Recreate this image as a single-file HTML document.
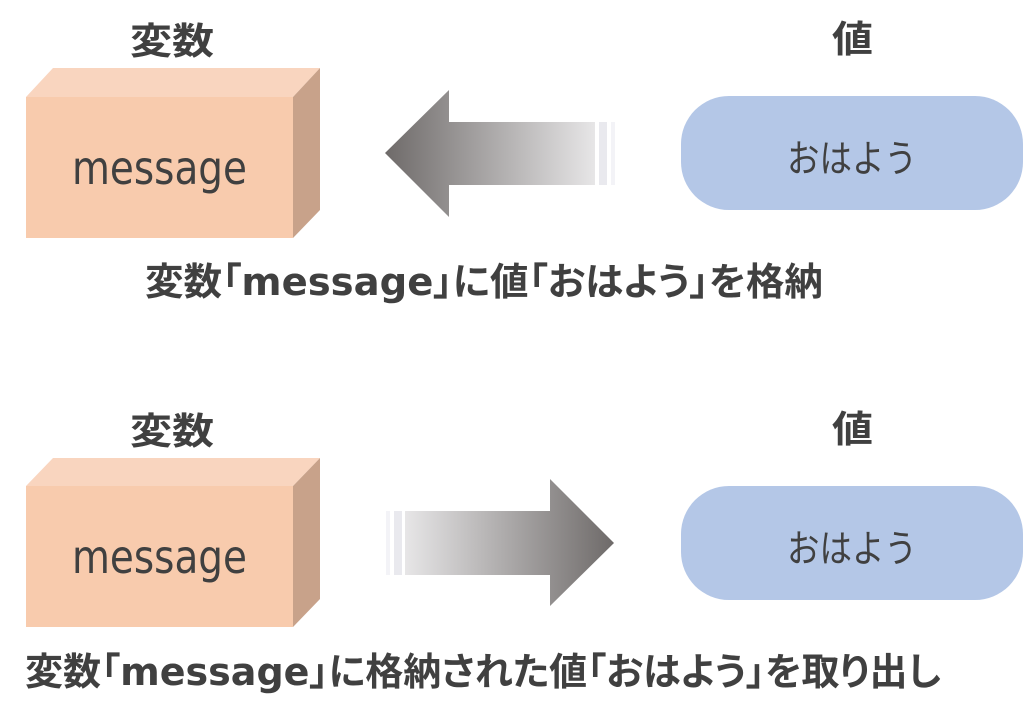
<!DOCTYPE html>
<html>
<head>
<meta charset="utf-8">
<style>
  html, body { margin: 0; padding: 0; background: #ffffff; }
  body { width: 1024px; height: 719px; overflow: hidden; }
  svg { display: block; }
  .jpb { font-family: "Liberation Sans", "Noto Sans CJK JP", sans-serif; font-weight: bold; fill: #404040; }
  .cap { font-family: "Noto Sans CJK JP", sans-serif; font-weight: bold; fill: #404040; font-feature-settings: "palt" 1; }
  .capl { font-family: "DejaVu Sans", sans-serif; font-weight: bold; }
  .jp { font-family: "Noto Sans CJK JP", sans-serif; font-weight: normal; fill: #404040; }
  .lat { font-family: "DejaVu Sans", sans-serif; fill: #404040; }
</style>
</head>
<body>
<svg width="1024" height="719" viewBox="0 0 1024 719" xmlns="http://www.w3.org/2000/svg">
  <defs>
    <linearGradient id="gL" x1="385" y1="0" x2="595" y2="0" gradientUnits="userSpaceOnUse">
      <stop offset="0" stop-color="#6E6A69"/>
      <stop offset="1" stop-color="#E7E6E7"/>
    </linearGradient>
    <linearGradient id="gR" x1="405" y1="0" x2="614" y2="0" gradientUnits="userSpaceOnUse">
      <stop offset="0" stop-color="#E7E6E7"/>
      <stop offset="1" stop-color="#6E6A69"/>
    </linearGradient>
  </defs>

  <!-- ===== Top section ===== -->
  <text class="jpb" x="130" y="54" font-size="37" textLength="84" lengthAdjust="spacingAndGlyphs">変数</text>
  <text class="jpb" x="832" y="52" font-size="37" textLength="41" lengthAdjust="spacingAndGlyphs">値</text>

  <!-- box -->
  <polygon points="26,97 53,68 320,68 293,97" fill="#F9D5BF"/>
  <polygon points="293,97 320,68 320,210 293,238" fill="#C8A28A"/>
  <rect x="26" y="97" width="267" height="141" fill="#F8CBAD"/>
  <text class="lat" x="72" y="184" font-size="41" textLength="175" lengthAdjust="spacingAndGlyphs" transform="translate(0,184) scale(1,1.13) translate(0,-184)">message</text>

  <!-- left arrow -->
  <polygon points="385,153 449,90 449,122 595,122 595,185 449,185 449,217" fill="url(#gL)"/>
  <rect x="599" y="122" width="8" height="63" fill="#E9E9EE"/>
  <rect x="611" y="122" width="4" height="63" fill="#F3F3F7"/>

  <!-- pill -->
  <rect x="681" y="96" width="342" height="114" rx="48" ry="48" fill="#B4C7E7"/>
  <text class="jp" x="787" y="172" font-size="38" textLength="130" lengthAdjust="spacingAndGlyphs">おはよう</text>

  <text class="cap" x="145" y="295" font-size="38" textLength="678" lengthAdjust="spacingAndGlyphs">変数「<tspan class="capl">message</tspan>」に値「おはよう」を格納</text>

  <!-- ===== Bottom section ===== -->
  <text class="jpb" x="130" y="444" font-size="37" textLength="84" lengthAdjust="spacingAndGlyphs">変数</text>
  <text class="jpb" x="832" y="442" font-size="37" textLength="41" lengthAdjust="spacingAndGlyphs">値</text>

  <!-- box -->
  <polygon points="26,486 53,458 320,458 293,486" fill="#F9D5BF"/>
  <polygon points="293,486 320,458 320,599 293,627" fill="#C8A28A"/>
  <rect x="26" y="486" width="267" height="141" fill="#F8CBAD"/>
  <text class="lat" x="72" y="573" font-size="41" textLength="175" lengthAdjust="spacingAndGlyphs" transform="translate(0,573) scale(1,1.13) translate(0,-573)">message</text>

  <!-- right arrow -->
  <rect x="386" y="511" width="4" height="64" fill="#F3F3F7"/>
  <rect x="394" y="511" width="8" height="64" fill="#E9E9EE"/>
  <polygon points="405,511 550,511 550,479 614,543 550,606 550,575 405,575" fill="url(#gR)"/>

  <!-- pill -->
  <rect x="681" y="486" width="342" height="114" rx="48" ry="48" fill="#B4C7E7"/>
  <text class="jp" x="787" y="562" font-size="38" textLength="130" lengthAdjust="spacingAndGlyphs">おはよう</text>

  <text class="cap" x="25" y="685" font-size="38" textLength="916" lengthAdjust="spacingAndGlyphs">変数「<tspan class="capl">message</tspan>」に格納された値「おはよう」を取り出し</text>
</svg>
</body>
</html>
